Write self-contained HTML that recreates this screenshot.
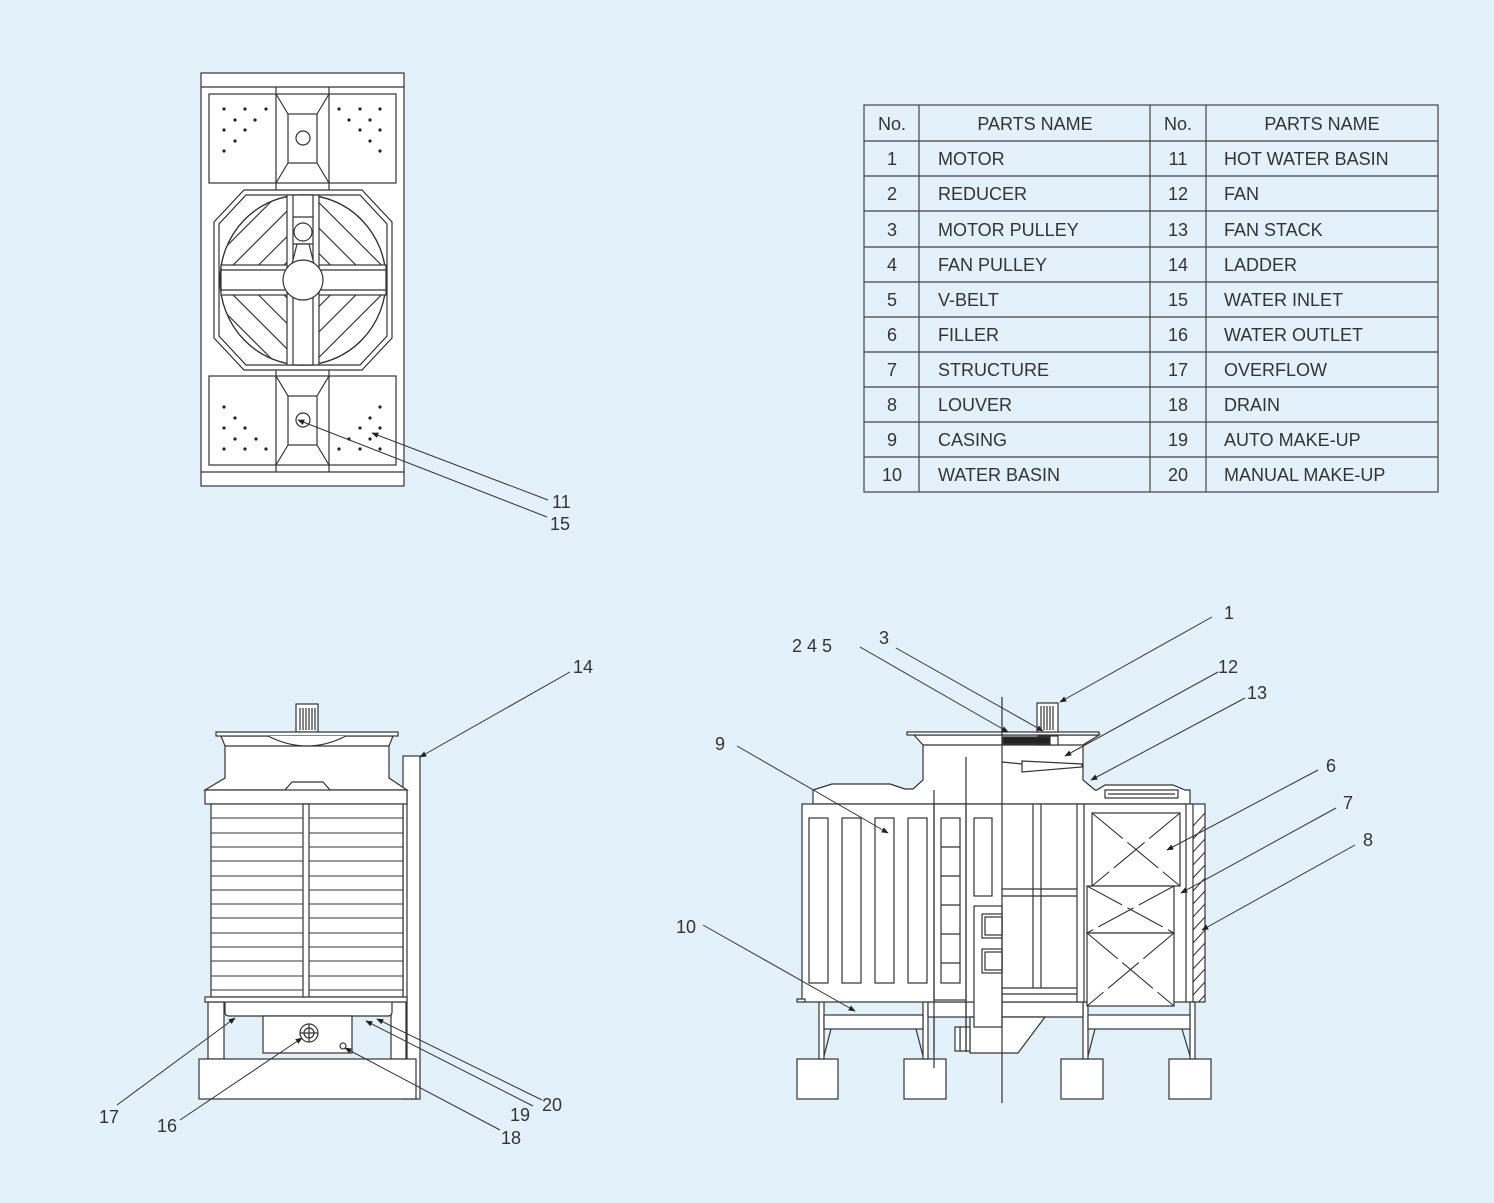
<!DOCTYPE html>
<html><head><meta charset="utf-8"><style>
html,body{margin:0;padding:0;background:#e3f1fa;}
svg{display:block;}
text{font-family:"Liberation Sans",sans-serif;fill:#333;}
</style></head><body>
<svg width="1494" height="1203" viewBox="0 0 1494 1203" xmlns="http://www.w3.org/2000/svg">
<defs>
<marker id="ar" viewBox="0 0 10 10" refX="9" refY="5" markerWidth="7" markerHeight="7" orient="auto-start-reverse"><path d="M0,1 L10,5 L0,9 z" fill="#222"/></marker>
<clipPath id="ell"><ellipse cx="303" cy="280" rx="83" ry="85"/></clipPath>
<clipPath id="louv"><rect x="1193" y="804" width="12" height="198"/></clipPath>
<pattern id="pa" patternUnits="userSpaceOnUse" width="18" height="18" patternTransform="rotate(45 303 280)"><line x1="9" y1="0" x2="9" y2="18" stroke="#333" stroke-width="1.2"/></pattern>
<pattern id="pb" patternUnits="userSpaceOnUse" width="18" height="18" patternTransform="rotate(-45 303 280)"><line x1="9" y1="0" x2="9" y2="18" stroke="#333" stroke-width="1.2"/></pattern>
</defs>
<rect width="1494" height="1203" fill="#e3f1fa"/>

<!-- TABLE -->
<g stroke="#444" stroke-width="1.2" fill="none">
<rect x="864" y="105" width="574" height="387"/>
<line x1="919" y1="105" x2="919" y2="492"/><line x1="1150" y1="105" x2="1150" y2="492"/><line x1="1206" y1="105" x2="1206" y2="492"/>
<line x1="864" y1="141" x2="1438" y2="141"/><line x1="864" y1="176" x2="1438" y2="176"/><line x1="864" y1="211" x2="1438" y2="211"/><line x1="864" y1="247" x2="1438" y2="247"/><line x1="864" y1="282" x2="1438" y2="282"/><line x1="864" y1="317" x2="1438" y2="317"/><line x1="864" y1="352" x2="1438" y2="352"/><line x1="864" y1="387" x2="1438" y2="387"/><line x1="864" y1="422" x2="1438" y2="422"/><line x1="864" y1="457" x2="1438" y2="457"/>
</g>
<g font-size="18">
<text x="892" y="130" text-anchor="middle">No.</text><text x="1035" y="130" text-anchor="middle">PARTS NAME</text>
<text x="1178" y="130" text-anchor="middle">No.</text><text x="1322" y="130" text-anchor="middle">PARTS NAME</text>
<g text-anchor="middle">
<text x="892" y="165">1</text><text x="892" y="200">2</text><text x="892" y="236">3</text><text x="892" y="271">4</text><text x="892" y="306">5</text><text x="892" y="341">6</text><text x="892" y="376">7</text><text x="892" y="411">8</text><text x="892" y="446">9</text><text x="892" y="481">10</text>
<text x="1178" y="165">11</text><text x="1178" y="200">12</text><text x="1178" y="236">13</text><text x="1178" y="271">14</text><text x="1178" y="306">15</text><text x="1178" y="341">16</text><text x="1178" y="376">17</text><text x="1178" y="411">18</text><text x="1178" y="446">19</text><text x="1178" y="481">20</text>
</g>
<text x="938" y="165">MOTOR</text><text x="938" y="200">REDUCER</text><text x="938" y="236">MOTOR PULLEY</text><text x="938" y="271">FAN PULLEY</text><text x="938" y="306">V-BELT</text><text x="938" y="341">FILLER</text><text x="938" y="376">STRUCTURE</text><text x="938" y="411">LOUVER</text><text x="938" y="446">CASING</text><text x="938" y="481">WATER BASIN</text>
<text x="1224" y="165">HOT WATER BASIN</text><text x="1224" y="200">FAN</text><text x="1224" y="236">FAN STACK</text><text x="1224" y="271">LADDER</text><text x="1224" y="306">WATER INLET</text><text x="1224" y="341">WATER OUTLET</text><text x="1224" y="376">OVERFLOW</text><text x="1224" y="411">DRAIN</text><text x="1224" y="446">AUTO MAKE-UP</text><text x="1224" y="481">MANUAL MAKE-UP</text>
</g>

<!-- TOP VIEW -->
<g stroke="#333" stroke-width="1.2" fill="#fff">
<rect x="201" y="73" width="203" height="413"/>
<line x1="201" y1="87" x2="404" y2="87"/><line x1="201" y1="472" x2="404" y2="472"/>
<rect x="209" y="94" width="187" height="89"/>
<rect x="209" y="376" width="187" height="89"/>
<line x1="276" y1="87" x2="276" y2="190"/><line x1="329" y1="87" x2="329" y2="190"/>
<line x1="276" y1="370" x2="276" y2="472"/><line x1="329" y1="370" x2="329" y2="472"/>
<rect x="288" y="114" width="29" height="49"/>
<path d="M276,94 L288,114 M329,94 L317,114 M276,183 L288,163 M329,183 L317,163" fill="none"/>
<circle cx="303" cy="138" r="7"/>
<rect x="288" y="396" width="29" height="49"/>
<path d="M276,376 L288,396 M329,376 L317,396 M276,465 L288,445 M329,465 L317,445" fill="none"/>
<circle cx="303" cy="420" r="7"/>
<path d="M244,190 L362,190 L392,222 L392,338 L362,370 L244,370 L214,338 L214,222 Z"/>
<path d="M246,195 L360,195 L387,224 L387,336 L360,365 L246,365 L219,336 L219,224 Z"/>
<ellipse cx="303" cy="280" rx="83" ry="85"/>
</g>
<g clip-path="url(#ell)" stroke="none">
<rect x="215" y="190" width="88" height="90" fill="url(#pa)"/>
<rect x="303" y="190" width="88" height="90" fill="url(#pb)"/>
<rect x="215" y="280" width="88" height="90" fill="url(#pb)"/>
<rect x="303" y="280" width="88" height="90" fill="url(#pa)"/>
</g>
<g stroke="#333" stroke-width="1.2" fill="#fff">
<ellipse cx="303" cy="280" rx="83" ry="85" fill="none"/>
<rect x="221" y="265" width="165" height="30"/>
<line x1="221" y1="270" x2="386" y2="270"/><line x1="221" y1="290" x2="386" y2="290"/>
<rect x="287" y="195" width="32" height="170"/>
<rect x="293" y="195" width="20" height="170"/>
<line x1="293" y1="217" x2="313" y2="217"/><line x1="293" y1="244" x2="313" y2="244"/>
<path d="M297,244 L292,264 L314,264 L309,244 Z"/>
<circle cx="303" cy="232" r="9"/>
<circle cx="303" cy="280" r="20"/>
</g>
<g fill="#222">
<circle cx="224" cy="109" r="1.6"/><circle cx="245" cy="109" r="1.6"/><circle cx="266" cy="109" r="1.6"/><circle cx="235" cy="120" r="1.6"/><circle cx="255" cy="120" r="1.6"/><circle cx="224" cy="130" r="1.6"/><circle cx="245" cy="130" r="1.6"/><circle cx="235" cy="141" r="1.6"/><circle cx="224" cy="151" r="1.6"/>
<circle cx="339" cy="109" r="1.6"/><circle cx="360" cy="109" r="1.6"/><circle cx="380" cy="109" r="1.6"/><circle cx="349" cy="120" r="1.6"/><circle cx="370" cy="120" r="1.6"/><circle cx="360" cy="130" r="1.6"/><circle cx="380" cy="130" r="1.6"/><circle cx="370" cy="141" r="1.6"/><circle cx="380" cy="151" r="1.6"/>
<circle cx="224" cy="407" r="1.6"/><circle cx="235" cy="418" r="1.6"/><circle cx="224" cy="428" r="1.6"/><circle cx="245" cy="428" r="1.6"/><circle cx="235" cy="439" r="1.6"/><circle cx="256" cy="439" r="1.6"/><circle cx="224" cy="449" r="1.6"/><circle cx="245" cy="449" r="1.6"/><circle cx="266" cy="449" r="1.6"/>
<circle cx="380" cy="407" r="1.6"/><circle cx="370" cy="418" r="1.6"/><circle cx="360" cy="428" r="1.6"/><circle cx="380" cy="428" r="1.6"/><circle cx="349" cy="439" r="1.6"/><circle cx="370" cy="439" r="1.6"/><circle cx="339" cy="449" r="1.6"/><circle cx="360" cy="449" r="1.6"/><circle cx="380" cy="449" r="1.6"/>
</g>

<!-- FRONT VIEW -->
<g stroke="#333" stroke-width="1.2" fill="#fff">
<rect x="403" y="756" width="17" height="343"/>
<line x1="407" y1="790" x2="407" y2="1099"/>
<rect x="296" y="704" width="22" height="28"/>
<path d="M300,708 V730 M303,708 V730 M306,708 V730 M309,708 V730 M312,708 V730 M315,708 V730" fill="none"/>
<path d="M221,736 L393,736 L389,746 L389,778 L407,790 L205,790 L225,778 L225,746 Z"/>
<rect x="216" y="732" width="182" height="4"/>
<line x1="225" y1="746" x2="389" y2="746"/>
<path d="M268,736 Q307,756 346,736" />
<path d="M285,790 L292,782 L323,782 L330,790" />
<rect x="205" y="790" width="202" height="14"/>
<rect x="208" y="1002" width="16" height="57"/><rect x="391" y="1002" width="15" height="57"/>
<path d="M225,1002 L225,1012 Q225,1016 229,1016 L388,1016 Q392,1016 392,1012 L392,1002" />
<rect x="263" y="1016" width="89" height="37"/>
<rect x="199" y="1059" width="217" height="40"/>
<rect x="211" y="804" width="192" height="193"/>
<rect x="205" y="997" width="202" height="5"/>
<rect x="303" y="804" width="6" height="193"/>
</g>
<g stroke="#333" stroke-width="1.1">
<path d="M211,818 H303 M211,833 H303 M211,847 H303 M211,861 H303 M211,876 H303 M211,890 H303 M211,904 H303 M211,918 H303 M211,933 H303 M211,947 H303 M211,961 H303 M211,976 H303 M211,990 H303"/>
<path d="M309,818 H403 M309,833 H403 M309,847 H403 M309,861 H403 M309,876 H403 M309,890 H403 M309,904 H403 M309,918 H403 M309,933 H403 M309,947 H403 M309,961 H403 M309,976 H403 M309,990 H403"/>
</g>
<g stroke="#333" stroke-width="1.2" fill="#fff">
<circle cx="309" cy="1033" r="9"/><circle cx="309" cy="1033" r="5"/>
<path d="M300,1033 H318 M309,1024 V1042" fill="none"/>
<circle cx="343" cy="1046" r="3"/>
</g>

<!-- SIDE VIEW -->
<g stroke="#333" stroke-width="1.2" fill="#fff">
<rect x="797" y="1059" width="41" height="40"/><rect x="904" y="1059" width="42" height="40"/><rect x="1061" y="1059" width="42" height="40"/><rect x="1169" y="1059" width="42" height="40"/>
<rect x="819" y="1002" width="5" height="57"/><rect x="923" y="1002" width="5" height="57"/>
<rect x="1083" y="1002" width="5" height="57"/><rect x="1190" y="1002" width="5" height="57"/>
<rect x="824" y="1015" width="99" height="14"/><rect x="1088" y="1015" width="102" height="14"/>
<path d="M831,1029 L824,1056 M916,1029 L923,1056 M1095,1029 L1088,1056 M1182,1029 L1190,1056" fill="none"/>
<rect x="928" y="1002" width="155" height="15"/>
<line x1="934" y1="1017" x2="934" y2="1053"/>
<path d="M970,1017 L1045,1017 L1018,1053 L970,1053 Z"/>
<rect x="960" y="1027" width="10" height="24"/><rect x="955" y="1027" width="5" height="24"/>
<path d="M813,790 L813,804 L1190,804 L1190,790 L1185,790 L1173,785 L1105,785 L1097,790 L1095,790 L1083,780 L1083,745 L1099,735 L914,735 L923,745 L923,780 L913,789 L905,789 L890,784 L832,784 Z"/>
<rect x="907" y="732" width="192" height="3"/>
<rect x="1037" y="703" width="21" height="29"/>
<path d="M1041,706 V730 M1044,706 V730 M1047,706 V730 M1050,706 V730 M1053,706 V730" fill="none"/>
<line x1="923" y1="745" x2="1083" y2="745"/>
<rect x="1105" y="790" width="73" height="8"/>
<line x1="1108" y1="794" x2="1175" y2="794"/>
<rect x="1038" y="736" width="20" height="9"/>
<path d="M1003,737 L1050,737 L1050,744 L1003,744 Z" fill="#222"/>
<path d="M1022,761 L1082,764 L1082,767 L1022,772 Z"/>
<line x1="1002" y1="762" x2="1022" y2="764"/>
<rect x="802" y="804" width="403" height="198"/>
<rect x="797" y="999" width="8" height="3"/>
<rect x="809" y="818" width="19" height="165"/><rect x="842" y="818" width="19" height="165"/><rect x="875" y="818" width="19" height="165"/><rect x="908" y="818" width="19" height="165"/>
<rect x="934" y="804" width="32" height="196"/>
<rect x="941" y="818" width="19" height="165"/>
<path d="M941,847 H960 M941,876 H960 M941,905 H960 M941,934 H960 M941,963 H960" fill="none"/>
<rect x="974" y="818" width="18" height="78"/>
<rect x="974" y="906" width="28" height="121"/>
<rect x="982" y="914" width="20" height="24"/><rect x="985" y="917" width="17" height="18"/>
<rect x="982" y="949" width="20" height="24"/><rect x="985" y="952" width="17" height="18"/>
<line x1="966" y1="1000" x2="966" y2="1052"/>
<path d="M1002,889 H1077 M1002,896 H1077 M1002,988 H1077 M1002,994 H1077 M1033,804 V988 M1041,804 V988 M1077,804 V1002 M1084,804 V1002 M1186,804 V1002" fill="none"/>
<rect x="1092" y="813" width="88" height="73"/>
<rect x="1087" y="886" width="87" height="47"/>
<rect x="1087" y="933" width="87" height="73"/>
<line x1="1193" y1="804" x2="1193" y2="1002"/>
<line x1="934" y1="790" x2="934" y2="1068"/>
<line x1="966" y1="757" x2="966" y2="1052"/>
</g>
<g stroke="#333" stroke-width="1.1" stroke-dasharray="40,6">
<path d="M1092,813 L1180,886 M1180,813 L1092,886 M1087,886 L1174,933 M1174,886 L1087,933 M1087,933 L1174,1006 M1174,933 L1087,1006" fill="none"/>
</g>
<g clip-path="url(#louv)" stroke="#333" stroke-width="1.1">
<path d="M1193,826 L1205,813 M1193,839 L1205,826 M1193,852 L1205,839 M1193,865 L1205,852 M1193,878 L1205,865 M1193,891 L1205,878 M1193,904 L1205,891 M1193,917 L1205,904 M1193,930 L1205,917 M1193,943 L1205,930 M1193,956 L1205,943 M1193,969 L1205,956 M1193,982 L1205,969 M1193,995 L1205,982 M1193,1008 L1205,995"/>
</g>
<line x1="1002" y1="697" x2="1002" y2="1103" stroke="#333" stroke-width="1.2"/>

<!-- LEADERS -->
<g stroke="#333" stroke-width="1" fill="none" marker-end="url(#ar)">
<line x1="548" y1="500" x2="372" y2="433"/>
<line x1="547" y1="517" x2="298" y2="420"/>
<line x1="570" y1="672" x2="420" y2="757"/>
<line x1="117" y1="1105" x2="235" y2="1018"/>
<line x1="180" y1="1120" x2="302" y2="1038"/>
<line x1="500" y1="1130" x2="345" y2="1048"/>
<line x1="533" y1="1106" x2="366" y2="1021"/>
<line x1="542" y1="1100" x2="377" y2="1019"/>
<line x1="1212" y1="617" x2="1060" y2="702"/>
<line x1="860" y1="647" x2="1008" y2="732"/>
<line x1="896" y1="648" x2="1043" y2="731"/>
<line x1="1218" y1="672" x2="1065" y2="756"/>
<line x1="1245" y1="698" x2="1091" y2="780"/>
<line x1="737" y1="746" x2="888" y2="833"/>
<line x1="1318" y1="770" x2="1167" y2="850"/>
<line x1="1336" y1="808" x2="1181" y2="893"/>
<line x1="1355" y1="845" x2="1202" y2="930"/>
<line x1="703" y1="925" x2="855" y2="1011"/>
</g>
<g font-size="18">
<text x="552" y="508">11</text><text x="550" y="530">15</text><text x="573" y="673">14</text>
<text x="99" y="1123">17</text><text x="157" y="1132">16</text><text x="501" y="1144">18</text><text x="510" y="1121">19</text><text x="542" y="1111">20</text>
<text x="1224" y="619">1</text><text x="792" y="652">2 4  5</text><text x="879" y="644">3</text><text x="1218" y="673">12</text><text x="1247" y="699">13</text>
<text x="715" y="750">9</text><text x="1326" y="772">6</text><text x="1343" y="809">7</text><text x="1363" y="846">8</text><text x="676" y="933">10</text>
</g>
</svg>
</body></html>
